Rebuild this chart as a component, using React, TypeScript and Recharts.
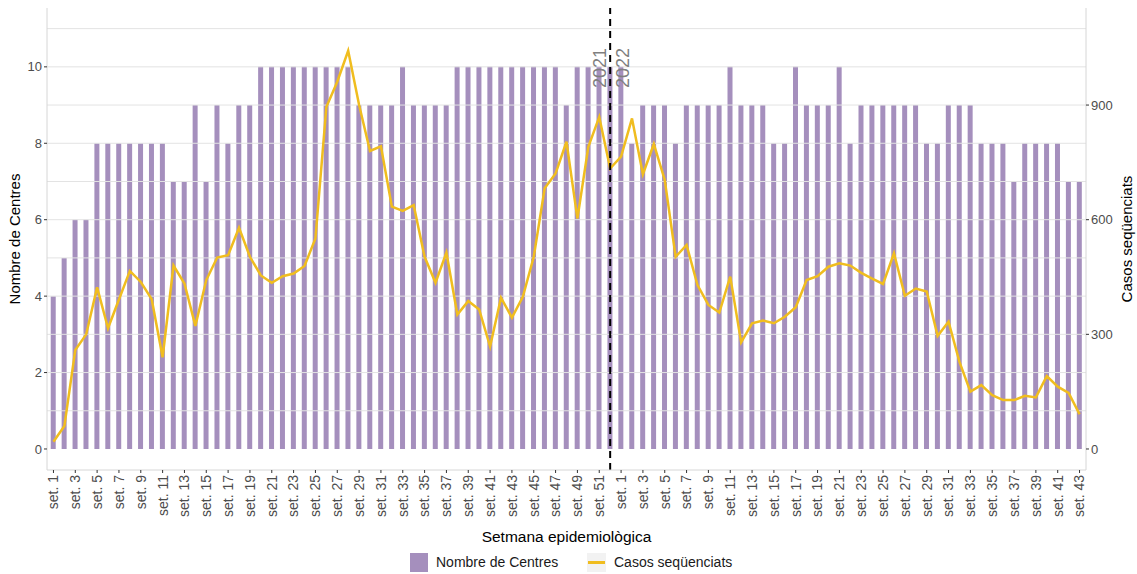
import React from 'react';
import { ComposedChart, Bar, Line, XAxis, YAxis, ReferenceLine } from 'recharts';

// setmanes epidemiològiques
const weeks2021 = [
  1, 2, 3, 4, 5, 6, 7, 8, 9, 10, 11, 12, 13, 14, 15, 16, 17, 18, 19, 20, 21, 22, 23, 24, 25, 26,
  27, 28, 29, 30, 31, 32, 33, 34, 35, 36, 37, 38, 39, 40, 41, 42, 43, 44, 45, 46, 47, 48, 49, 50, 51, 52,
];
const weeks2022 = [
  1, 2, 3, 4, 5, 6, 7, 8, 9, 10, 11, 12, 13, 14, 15, 16, 17, 18, 19, 20, 21, 22,
  23, 24, 25, 26, 27, 28, 29, 30, 31, 32, 33, 34, 35, 36, 37, 38, 39, 40, 41, 42, 43,
];

const centres2021 = [
  4, 5, 6, 6, 8, 8, 8, 8, 8, 8, 8, 7, 7, 9, 7, 9, 8, 9, 9, 10, 10, 10, 10, 10, 10, 10,
  10, 10, 9, 9, 9, 9, 10, 9, 9, 9, 9, 10, 10, 10, 10, 10, 10, 10, 10, 10, 10, 9, 10, 10, 10, 10,
];
const centres2022 = [
  10, 8, 9, 9, 9, 8, 9, 9, 9, 9, 10, 9, 9, 9, 8, 8, 10, 9, 9, 9, 10, 8,
  9, 9, 9, 9, 9, 9, 8, 8, 9, 9, 9, 8, 8, 8, 7, 8, 8, 8, 8, 7, 7,
];

const casos2021 = [
  19, 60, 259, 300, 423, 316, 391, 466, 437, 392, 240, 480, 433, 322, 442, 501, 507, 579, 503, 454,
  435, 452, 459, 479, 551, 895, 961, 1042, 900, 780, 792, 634, 623, 638, 503, 435, 514, 352, 387, 365,
  268, 396, 344, 398, 503, 682, 721, 804, 603, 791, 869, 734,
];
const casos2022 = [
  765, 865, 719, 798, 704, 503, 534, 429, 377, 357, 451, 279, 329, 336, 329, 346, 371, 442, 452, 477,
  486, 480, 461, 446, 432, 512, 401, 420, 412, 296, 333, 228, 150, 167, 141, 128, 128, 139, 135, 191,
  163, 147, 91,
];

const leftTicks = [0, 2, 4, 6, 8, 10];
const rightTicks = [0, 300, 600, 900];
const gridValues = [1, 2, 3, 4, 5, 6, 7, 8, 9, 10, 11];

const data = [
  ...weeks2021.map((w, i) => ({ key: `2021-${w}`, week: w, centres: centres2021[i], casos: casos2021[i] })),
  ...weeks2022.map((w, i) => ({ key: `2022-${w}`, week: w, centres: centres2022[i], casos: casos2022[i] })),
];

const FONT = '"Liberation Sans", Arial, sans-serif';
const BAR_COLOR = '#a58fbd';
const LINE_COLOR = '#f0bd1f';

const WeekTick = (props: any) => {
  const { x, y, payload } = props;
  const week = String(payload.value).split('-')[1];
  return (
    <text
      x={x}
      y={y}
      transform={`rotate(-90, ${x}, ${y})`}
      textAnchor="end"
      dy="0.35em"
      fontSize={14}
      fill="#4d4d4d"
      fontFamily={FONT}
    >
      {`set. ${week}`}
    </text>
  );
};

const YearsLabel = (props: any) => {
  const vx = props.viewBox?.x ?? 0;
  return (
    <g>
      <text x={vx - 4} y={88} transform={`rotate(-90, ${vx - 4}, 88)`} fontSize={18} fill="#808080" fontFamily={FONT}>
        2021
      </text>
      <text x={vx + 19} y={88} transform={`rotate(-90, ${vx + 19}, 88)`} fontSize={18} fill="#808080" fontFamily={FONT}>
        2022
      </text>
    </g>
  );
};

const LeftTitle = (props: any) => {
  const { x, y, height } = props.viewBox;
  const cx = x + 20;
  const cy = y + height / 2;
  return (
    <text x={cx} y={cy} transform={`rotate(-90, ${cx}, ${cy})`} textAnchor="middle" fontSize={15} fill="#000" fontFamily={FONT}>
      Nombre de Centres
    </text>
  );
};

const RightTitle = (props: any) => {
  const { x, y, height } = props.viewBox;
  const cx = x + 46;
  const cy = y + height / 2;
  return (
    <text x={cx} y={cy} transform={`rotate(-90, ${cx}, ${cy})`} textAnchor="middle" fontSize={15} fill="#000" fontFamily={FONT}>
      Casos seqüenciats
    </text>
  );
};

const BottomTitle = (props: any) => {
  const { x, y, width } = props.viewBox;
  return (
    <text x={x + width / 2} y={y + 72} textAnchor="middle" fontSize={15.5} fill="#000" fontFamily={FONT}>
      Setmana epidemiològica
    </text>
  );
};

export default function App() {
  return (
    <div style={{ position: 'absolute', left: 0, top: 0, width: 1137, height: 574, background: '#fff', fontFamily: FONT }}>
      <ComposedChart
        width={1137}
        height={550}
        data={data}
        margin={{ top: 8, right: 0, bottom: 0, left: 0 }}
        barCategoryGap="25%"
      >
        {gridValues.map((v) => (
          <ReferenceLine key={v} y={v} yAxisId="left" stroke="#e3e3e3" strokeWidth={1} />
        ))}
        <XAxis
          dataKey="key"
          interval={1}
          height={80}
          tick={<WeekTick />}
          tickSize={3}
          tickLine={{ stroke: '#333' }}
          axisLine={{ stroke: '#d6d6d6' }}
          padding={{ left: 1, right: 1 }}
          label={<BottomTitle />}
        />
        <YAxis
          yAxisId="left"
          width={47}
          domain={[-0.55, 11.54]}
          ticks={leftTicks}
          allowDataOverflow
          tickSize={3}
          tickLine={{ stroke: '#333' }}
          axisLine={{ stroke: '#d6d6d6' }}
          tick={{ fontSize: 13, fill: '#4d4d4d', fontFamily: FONT }}
          label={<LeftTitle />}
        />
        <YAxis
          yAxisId="right"
          orientation="right"
          width={51}
          domain={[-55, 1154]}
          ticks={rightTicks}
          allowDataOverflow
          tickSize={3}
          tickLine={{ stroke: '#333' }}
          axisLine={{ stroke: '#d6d6d6' }}
          tick={{ fontSize: 13, fill: '#4d4d4d', fontFamily: FONT }}
          label={<RightTitle />}
        />
        <Bar dataKey="centres" yAxisId="left" fill={BAR_COLOR} isAnimationActive={false} />
        <Line
          dataKey="casos"
          yAxisId="right"
          type="linear"
          stroke={LINE_COLOR}
          strokeWidth={2.5}
          dot={false}
          isAnimationActive={false}
        />
        <ReferenceLine
          x="2021-52"
          yAxisId="left"
          stroke="#000"
          strokeWidth={2}
          strokeDasharray="7 5"
          label={<YearsLabel />}
        />
      </ComposedChart>
      <div style={{ position: 'absolute', top: 552, left: 0, width: 1137, height: 22, fontSize: 14, color: '#1a1a1a' }}>
        <div style={{ position: 'absolute', left: 410, top: 1, width: 18, height: 19, background: BAR_COLOR }} />
        <div style={{ position: 'absolute', left: 436, top: 2, lineHeight: '17px' }}>Nombre de Centres</div>
        <div style={{ position: 'absolute', left: 587, top: 1, width: 19, height: 19, background: '#f2f2f2' }}>
          <div style={{ position: 'absolute', left: 1, top: 8, width: 17, height: 3, background: LINE_COLOR }} />
        </div>
        <div style={{ position: 'absolute', left: 614, top: 2, lineHeight: '17px' }}>Casos seqüenciats</div>
      </div>
    </div>
  );
}
